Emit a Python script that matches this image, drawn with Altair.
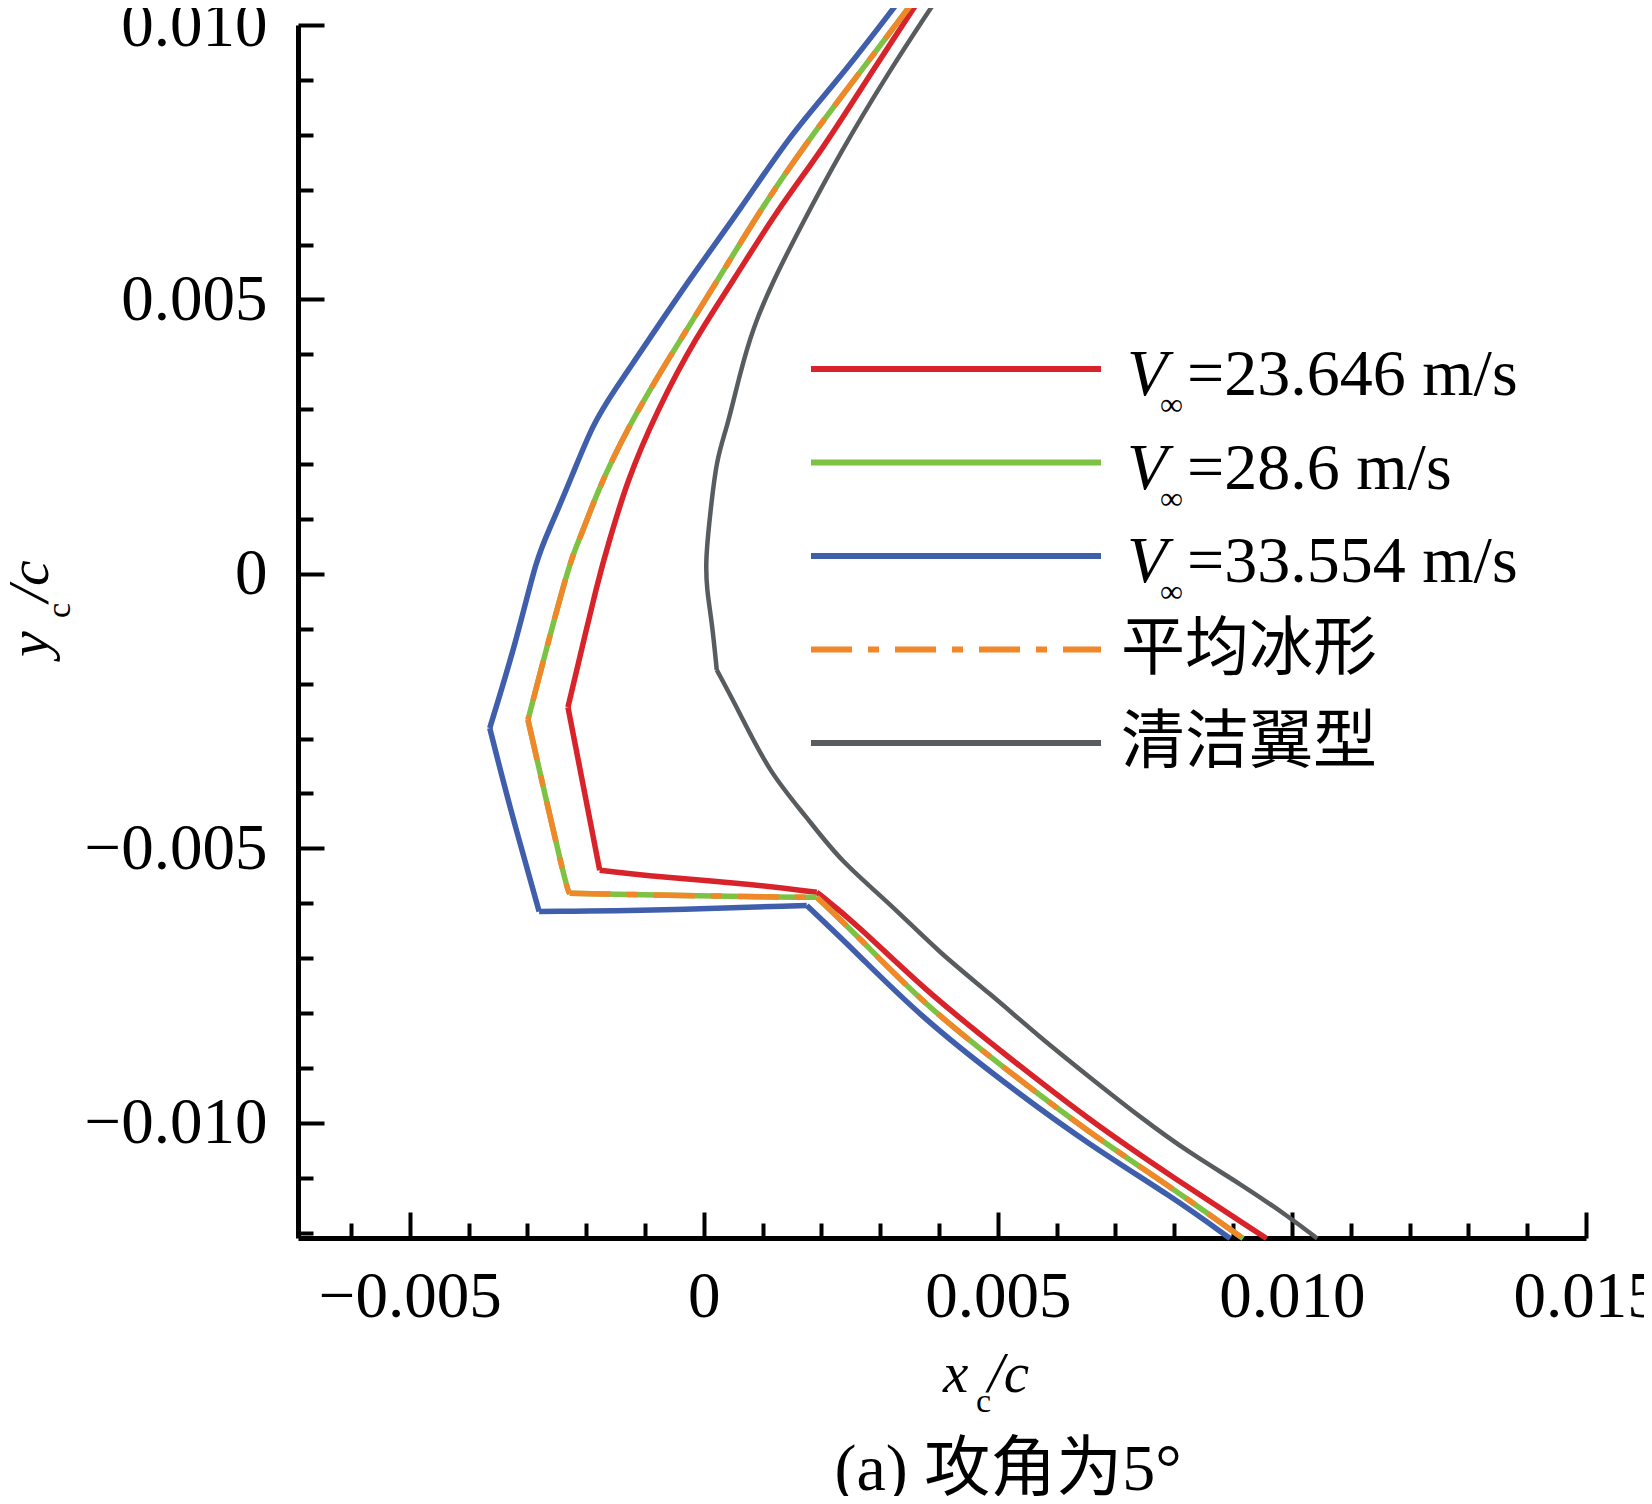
import altair as alt
import pandas as pd

FONT = "Liberation Serif, Noto Sans CJK SC"

# axis ranges / ticks (every 0.001, labels on multiples of 0.005)
x_domain = [-0.0069, 0.015]
y_domain = [-0.0121, 0.010]
x_ticks = [i / 1000 for i in range(-6, 16)]
y_ticks = [i / 1000 for i in range(-12, 11)]

# V∞ = 23.646 m/s
red_x = [0.00359, 0.00287, 0.00202, 0.00124, 0.00049, -0.00012, -0.00080, -0.00131, -0.00160,
         -0.00177, -0.00231, -0.00177, -0.00109, 0.00061, 0.00192, 0.00260, 0.00372, 0.00509,
         0.00656, 0.00798, 0.00957]
red_y = [0.01034, 0.00917, 0.00773, 0.00662, 0.00532, 0.00434, 0.00297, 0.00168, 0.00062,
         0.00002, -0.00243, -0.00540, -0.00549, -0.00563, -0.00580, -0.00638, -0.00755, -0.00873,
         -0.00996, -0.01100, -0.01211]
red_corners = [10, 11, 14]

# V∞ = 28.6 m/s
green_x = [0.00350, 0.00277, 0.00192, 0.00107, 0.00022, -0.00058, -0.00131, -0.00182, -0.00211,
           -0.00228, -0.00299, -0.00233, -0.00228, 0.00117, 0.00192, 0.00260, 0.00372, 0.00509,
           0.00656, 0.00798, 0.00917]
green_y = [0.01034, 0.00930, 0.00811, 0.00682, 0.00532, 0.00396, 0.00264, 0.00148, 0.00062,
           0.00026, -0.00266, -0.00576, -0.00582, -0.00589, -0.00589, -0.00658, -0.00782, -0.00899,
           -0.01019, -0.01120, -0.01211]
green_corners = [10, 12, 14]

# V∞ = 33.554 m/s
blue_x = [0.00325, 0.00231, 0.00146, 0.00061, -0.00019, -0.00092, -0.00155, -0.00189, -0.00223,
          -0.00262, -0.00284, -0.00318, -0.00364, -0.00330, -0.00280, -0.00075, 0.00175, 0.00219,
          0.00260, 0.00372, 0.00509, 0.00656, 0.00798, 0.00895]
blue_y = [0.01034, 0.00903, 0.00799, 0.00662, 0.00545, 0.00429, 0.00330, 0.00272, 0.00181,
          0.00082, 0.00031, -0.00120, -0.00281, -0.00425, -0.00615, -0.00613, -0.00604, -0.00649,
          -0.00691, -0.00810, -0.00926, -0.01041, -0.01136, -0.01211]
blue_corners = [12, 14, 16]

# 平均冰形 (lies on top of the 28.6 m/s shape)
avg_x = list(green_x)
avg_y = list(green_y)

# 清洁翼型
clean_x = [0.00388, 0.00316, 0.00231, 0.00163, 0.00117, 0.00083, 0.00061, 0.00039, 0.00022,
           0.00010, 0.00003, 0.00005, 0.00014, 0.00022, 0.00061, 0.00112, 0.00175, 0.00231,
           0.00316, 0.00401, 0.00486, 0.00571, 0.00656, 0.00742, 0.00827, 0.00912, 0.00997,
           0.01043]
clean_y = [0.01034, 0.00917, 0.00766, 0.00629, 0.00532, 0.00447, 0.00363, 0.00264, 0.00213,
           0.00102, 0.00024, -0.00029, -0.00089, -0.00175, -0.00253, -0.00363, -0.00443, -0.00522,
           -0.00600, -0.00691, -0.00764, -0.00844, -0.00917, -0.00990, -0.01056, -0.01111, -0.01173,
           -0.01211]
clean_corners = [13]

speed_labels = ["=23.646 m/s", "=28.6 m/s", "=33.554 m/s"]
shape_labels = ["平均冰形", "清洁翼型"]

RED, GREEN, BLUE, ORANGE, GRAY = "#d9232a", "#7dc242", "#3f5eac", "#f0882a", "#585c5f"
DASHDOT = [41, 16, 11, 16]

MAJOR = "abs(round(datum.value * 1000)) % 5 == 0"
LABEL = f"{MAJOR} ? (datum.value == 0 ? '0' : replace(format(datum.value, '.3f'), '-', '\u2212')) : ''"


def make_axis(values, padding):
    # ticks point into the plot, long ones on the labelled values
    return alt.Axis(
        values=values, grid=False,
        domainColor="black", domainWidth=5,
        tickColor="black", tickWidth=4,
        tickSize={"expr": f"{MAJOR} ? -26 : -15"},
        labelExpr=LABEL, labelFont=FONT, labelFontSize=65, labelColor="black",
        labelPadding=padding, labelOverlap=False, labelFlush=False, labelLimit=0,
    )


x_axis = make_axis(x_ticks, 53)
y_axis = make_axis(y_ticks, 57)


def curve(xs, ys, corners, color, width, dash=None):
    # smooth pieces between the sharp corners of each outline
    style = dict(color=color, strokeWidth=width, strokeJoin="round", interpolate="basis")
    if dash:
        style["strokeDash"] = dash
    cuts = [0] + corners + [len(xs) - 1]
    parts = []
    for a, b in zip(cuts[:-1], cuts[1:]):
        df = pd.DataFrame({"x": xs[a:b + 1], "y": ys[a:b + 1], "i": list(range(a, b + 1))})
        parts.append(alt.Chart(df).mark_line(**style).encode(
            x=alt.X("x:Q", scale=alt.Scale(domain=x_domain, nice=False, zero=False), axis=x_axis, title=None),
            y=alt.Y("y:Q", scale=alt.Scale(domain=y_domain, nice=False, zero=False), axis=y_axis, title=None),
            order="i:Q",
        ))
    return parts


def text(t, x, y, size, italic=False, align="left", baseline="alphabetic", angle=0):
    style = dict(font=FONT, fontSize=size, align=align, baseline=baseline, color="black")
    if italic:
        style["fontStyle"] = "italic"
    if angle:
        style["angle"] = angle
    return alt.Chart(pd.DataFrame({"t": [t]})).mark_text(**style).encode(
        x=alt.value(x), y=alt.value(y), text="t:N")


LEG_TOP, LEG_STEP = 344, 93.5


def legend_line(row, color, dash=None):
    style = dict(color=color, strokeWidth=6)
    if dash:
        style["strokeDash"] = dash
    return alt.Chart(pd.DataFrame({"row": [row]})).mark_rule(**style).encode(
        x=alt.value(513), x2=alt.value(803), y=alt.value(LEG_TOP + row * LEG_STEP))


layers = (
    curve(clean_x, clean_y, clean_corners, GRAY, 4.5)
    + curve(blue_x, blue_y, blue_corners, BLUE, 5.5)
    + curve(red_x, red_y, red_corners, RED, 5.5)
    + curve(green_x, green_y, green_corners, GREEN, 5.5)
    + curve(avg_x, avg_y, green_corners, ORANGE, 5.5, DASHDOT)
)

# legend
for row, color in enumerate([RED, GREEN, BLUE]):
    y = LEG_TOP + row * LEG_STEP
    layers += [
        legend_line(row, color),
        text("V", 829, y + 26, 66, italic=True),
        text("∞", 862, y + 36, 32, baseline="middle"),
        text(speed_labels[row], 889, y + 26, 66),
    ]
layers += [
    legend_line(3, ORANGE, DASHDOT),
    text(shape_labels[0], 823, LEG_TOP + 3 * LEG_STEP, 64, baseline="middle"),
    legend_line(4, GRAY),
    text(shape_labels[1], 823, LEG_TOP + 4 * LEG_STEP, 64, baseline="middle"),
]

# axis titles and caption
layers += [
    text("x", 645, 1367, 57, italic=True),
    text("c", 678, 1387, 34),
    text("/c", 690, 1367, 57, italic=True),
    text("y", -250, 632, 58, italic=True, angle=270),
    text("c", -228, 593, 34, angle=270),
    text("/c", -250, 577, 58, italic=True, angle=270),
    text("(a) 攻角为5°", 710, 1465, 66, align="center"),
]

chart = alt.layer(*layers).properties(
    width=1288,
    height=1213,
    padding={"left": 290, "top": 17, "right": 58, "bottom": 258},
    autosize=alt.AutoSizeParams(type="none"),
).configure_view(stroke=None)

chart.save("out.html", embed_options={"renderer": "svg", "actions": False})
